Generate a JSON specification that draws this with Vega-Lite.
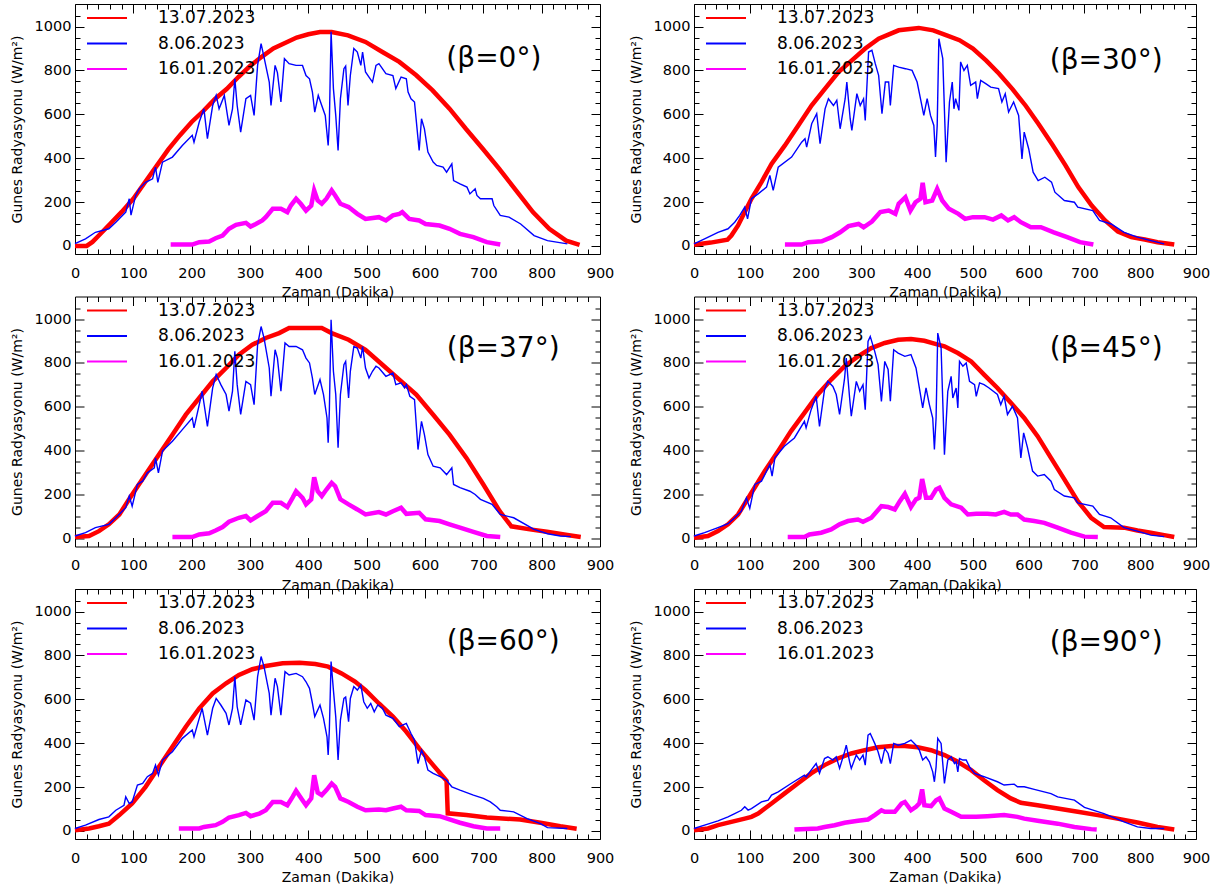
{
"$schema":"https://vega.github.io/schema/vega-lite/v6.json",
"background":"white",
"padding":{"left":10,"top":3,"right":0,"bottom":0},
"config":{"font":"DejaVu Sans","view":{"stroke":null},
"axis":{"grid":false,"domainColor":"black","domainWidth":1,"tickColor":"black","tickWidth":1,"labelColor":"black","titleColor":"black","labelFont":"DejaVu Sans","titleFont":"DejaVu Sans","labelFontSize":14.5,"titleFontSize":14,"titleFontWeight":"normal","labelFlush":false,"labelOverlap":false}},
"datasets":{"d":[
{"p":0,"s":"13.07.2023","x":0,"y":0},{"p":0,"s":"13.07.2023","x":20,"y":0},{"p":0,"s":"13.07.2023","x":30,"y":18},{"p":0,"s":"13.07.2023","x":40,"y":45},{"p":0,"s":"13.07.2023","x":60,"y":100},{"p":0,"s":"13.07.2023","x":80,"y":155},{"p":0,"s":"13.07.2023","x":100,"y":215},{"p":0,"s":"13.07.2023","x":120,"y":290},{"p":0,"s":"13.07.2023","x":140,"y":365},{"p":0,"s":"13.07.2023","x":160,"y":440},{"p":0,"s":"13.07.2023","x":180,"y":505},{"p":0,"s":"13.07.2023","x":200,"y":565},{"p":0,"s":"13.07.2023","x":220,"y":615},{"p":0,"s":"13.07.2023","x":240,"y":670},{"p":0,"s":"13.07.2023","x":260,"y":715},{"p":0,"s":"13.07.2023","x":280,"y":770},{"p":0,"s":"13.07.2023","x":300,"y":820},{"p":0,"s":"13.07.2023","x":320,"y":862},{"p":0,"s":"13.07.2023","x":340,"y":900},{"p":0,"s":"13.07.2023","x":360,"y":925},{"p":0,"s":"13.07.2023","x":380,"y":950},{"p":0,"s":"13.07.2023","x":400,"y":965},{"p":0,"s":"13.07.2023","x":420,"y":975},{"p":0,"s":"13.07.2023","x":440,"y":975},{"p":0,"s":"13.07.2023","x":468,"y":960},{"p":0,"s":"13.07.2023","x":498,"y":930},{"p":0,"s":"13.07.2023","x":527,"y":884},{"p":0,"s":"13.07.2023","x":556,"y":839},{"p":0,"s":"13.07.2023","x":585,"y":778},{"p":0,"s":"13.07.2023","x":613,"y":709},{"p":0,"s":"13.07.2023","x":642,"y":626},{"p":0,"s":"13.07.2023","x":670,"y":534},{"p":0,"s":"13.07.2023","x":699,"y":443},{"p":0,"s":"13.07.2023","x":727,"y":352},{"p":0,"s":"13.07.2023","x":756,"y":253},{"p":0,"s":"13.07.2023","x":785,"y":154},{"p":0,"s":"13.07.2023","x":813,"y":78},{"p":0,"s":"13.07.2023","x":842,"y":24},{"p":0,"s":"13.07.2023","x":865,"y":5},
{"p":0,"s":"8.06.2023","x":0,"y":10},{"p":0,"s":"8.06.2023","x":18,"y":32},{"p":0,"s":"8.06.2023","x":35,"y":62},{"p":0,"s":"8.06.2023","x":58,"y":78},{"p":0,"s":"8.06.2023","x":70,"y":108},{"p":0,"s":"8.06.2023","x":87,"y":154},{"p":0,"s":"8.06.2023","x":93,"y":215},{"p":0,"s":"8.06.2023","x":96,"y":140},{"p":0,"s":"8.06.2023","x":104,"y":230},{"p":0,"s":"8.06.2023","x":110,"y":260},{"p":0,"s":"8.06.2023","x":121,"y":290},{"p":0,"s":"8.06.2023","x":133,"y":306},{"p":0,"s":"8.06.2023","x":138,"y":359},{"p":0,"s":"8.06.2023","x":142,"y":290},{"p":0,"s":"8.06.2023","x":150,"y":382},{"p":0,"s":"8.06.2023","x":167,"y":405},{"p":0,"s":"8.06.2023","x":184,"y":458},{"p":0,"s":"8.06.2023","x":201,"y":504},{"p":0,"s":"8.06.2023","x":204,"y":473},{"p":0,"s":"8.06.2023","x":213,"y":565},{"p":0,"s":"8.06.2023","x":221,"y":625},{"p":0,"s":"8.06.2023","x":227,"y":489},{"p":0,"s":"8.06.2023","x":236,"y":640},{"p":0,"s":"8.06.2023","x":242,"y":686},{"p":0,"s":"8.06.2023","x":247,"y":625},{"p":0,"s":"8.06.2023","x":256,"y":686},{"p":0,"s":"8.06.2023","x":264,"y":550},{"p":0,"s":"8.06.2023","x":270,"y":625},{"p":0,"s":"8.06.2023","x":274,"y":762},{"p":0,"s":"8.06.2023","x":278,"y":640},{"p":0,"s":"8.06.2023","x":284,"y":519},{"p":0,"s":"8.06.2023","x":293,"y":671},{"p":0,"s":"8.06.2023","x":301,"y":686},{"p":0,"s":"8.06.2023","x":307,"y":595},{"p":0,"s":"8.06.2023","x":313,"y":823},{"p":0,"s":"8.06.2023","x":319,"y":922},{"p":0,"s":"8.06.2023","x":324,"y":861},{"p":0,"s":"8.06.2023","x":333,"y":747},{"p":0,"s":"8.06.2023","x":336,"y":640},{"p":0,"s":"8.06.2023","x":343,"y":823},{"p":0,"s":"8.06.2023","x":347,"y":790},{"p":0,"s":"8.06.2023","x":353,"y":656},{"p":0,"s":"8.06.2023","x":359,"y":854},{"p":0,"s":"8.06.2023","x":367,"y":831},{"p":0,"s":"8.06.2023","x":379,"y":823},{"p":0,"s":"8.06.2023","x":390,"y":823},{"p":0,"s":"8.06.2023","x":396,"y":777},{"p":0,"s":"8.06.2023","x":402,"y":762},{"p":0,"s":"8.06.2023","x":407,"y":701},{"p":0,"s":"8.06.2023","x":411,"y":610},{"p":0,"s":"8.06.2023","x":417,"y":686},{"p":0,"s":"8.06.2023","x":423,"y":640},{"p":0,"s":"8.06.2023","x":429,"y":595},{"p":0,"s":"8.06.2023","x":434,"y":458},{"p":0,"s":"8.06.2023","x":436,"y":560},{"p":0,"s":"8.06.2023","x":439,"y":976},{"p":0,"s":"8.06.2023","x":443,"y":717},{"p":0,"s":"8.06.2023","x":447,"y":595},{"p":0,"s":"8.06.2023","x":451,"y":435},{"p":0,"s":"8.06.2023","x":455,"y":671},{"p":0,"s":"8.06.2023","x":461,"y":808},{"p":0,"s":"8.06.2023","x":464,"y":820},{"p":0,"s":"8.06.2023","x":468,"y":640},{"p":0,"s":"8.06.2023","x":472,"y":777},{"p":0,"s":"8.06.2023","x":478,"y":900},{"p":0,"s":"8.06.2023","x":484,"y":884},{"p":0,"s":"8.06.2023","x":490,"y":823},{"p":0,"s":"8.06.2023","x":493,"y":884},{"p":0,"s":"8.06.2023","x":498,"y":793},{"p":0,"s":"8.06.2023","x":504,"y":770},{"p":0,"s":"8.06.2023","x":510,"y":747},{"p":0,"s":"8.06.2023","x":516,"y":823},{"p":0,"s":"8.06.2023","x":521,"y":831},{"p":0,"s":"8.06.2023","x":533,"y":785},{"p":0,"s":"8.06.2023","x":545,"y":777},{"p":0,"s":"8.06.2023","x":550,"y":717},{"p":0,"s":"8.06.2023","x":559,"y":770},{"p":0,"s":"8.06.2023","x":568,"y":762},{"p":0,"s":"8.06.2023","x":571,"y":701},{"p":0,"s":"8.06.2023","x":576,"y":671},{"p":0,"s":"8.06.2023","x":582,"y":656},{"p":0,"s":"8.06.2023","x":588,"y":489},{"p":0,"s":"8.06.2023","x":590,"y":435},{"p":0,"s":"8.06.2023","x":594,"y":580},{"p":0,"s":"8.06.2023","x":599,"y":534},{"p":0,"s":"8.06.2023","x":605,"y":428},{"p":0,"s":"8.06.2023","x":614,"y":382},{"p":0,"s":"8.06.2023","x":620,"y":367},{"p":0,"s":"8.06.2023","x":631,"y":359},{"p":0,"s":"8.06.2023","x":637,"y":336},{"p":0,"s":"8.06.2023","x":646,"y":374},{"p":0,"s":"8.06.2023","x":649,"y":298},{"p":0,"s":"8.06.2023","x":660,"y":283},{"p":0,"s":"8.06.2023","x":672,"y":268},{"p":0,"s":"8.06.2023","x":677,"y":237},{"p":0,"s":"8.06.2023","x":686,"y":260},{"p":0,"s":"8.06.2023","x":689,"y":230},{"p":0,"s":"8.06.2023","x":695,"y":215},{"p":0,"s":"8.06.2023","x":715,"y":215},{"p":0,"s":"8.06.2023","x":718,"y":184},{"p":0,"s":"8.06.2023","x":729,"y":139},{"p":0,"s":"8.06.2023","x":744,"y":131},{"p":0,"s":"8.06.2023","x":764,"y":100},{"p":0,"s":"8.06.2023","x":787,"y":47},{"p":0,"s":"8.06.2023","x":810,"y":24},{"p":0,"s":"8.06.2023","x":844,"y":9},
{"p":0,"s":"16.01.2023","x":164,"y":6},{"p":0,"s":"16.01.2023","x":201,"y":6},{"p":0,"s":"16.01.2023","x":213,"y":17},{"p":0,"s":"16.01.2023","x":230,"y":20},{"p":0,"s":"16.01.2023","x":241,"y":35},{"p":0,"s":"16.01.2023","x":253,"y":47},{"p":0,"s":"16.01.2023","x":264,"y":78},{"p":0,"s":"16.01.2023","x":276,"y":96},{"p":0,"s":"16.01.2023","x":293,"y":105},{"p":0,"s":"16.01.2023","x":301,"y":88},{"p":0,"s":"16.01.2023","x":310,"y":100},{"p":0,"s":"16.01.2023","x":321,"y":116},{"p":0,"s":"16.01.2023","x":327,"y":131},{"p":0,"s":"16.01.2023","x":339,"y":169},{"p":0,"s":"16.01.2023","x":353,"y":169},{"p":0,"s":"16.01.2023","x":364,"y":154},{"p":0,"s":"16.01.2023","x":370,"y":184},{"p":0,"s":"16.01.2023","x":379,"y":215},{"p":0,"s":"16.01.2023","x":387,"y":192},{"p":0,"s":"16.01.2023","x":396,"y":161},{"p":0,"s":"16.01.2023","x":405,"y":184},{"p":0,"s":"16.01.2023","x":410,"y":253},{"p":0,"s":"16.01.2023","x":416,"y":207},{"p":0,"s":"16.01.2023","x":423,"y":192},{"p":0,"s":"16.01.2023","x":431,"y":215},{"p":0,"s":"16.01.2023","x":440,"y":253},{"p":0,"s":"16.01.2023","x":446,"y":230},{"p":0,"s":"16.01.2023","x":455,"y":192},{"p":0,"s":"16.01.2023","x":469,"y":177},{"p":0,"s":"16.01.2023","x":484,"y":146},{"p":0,"s":"16.01.2023","x":498,"y":123},{"p":0,"s":"16.01.2023","x":521,"y":131},{"p":0,"s":"16.01.2023","x":533,"y":116},{"p":0,"s":"16.01.2023","x":545,"y":139},{"p":0,"s":"16.01.2023","x":556,"y":146},{"p":0,"s":"16.01.2023","x":561,"y":154},{"p":0,"s":"16.01.2023","x":573,"y":123},{"p":0,"s":"16.01.2023","x":590,"y":116},{"p":0,"s":"16.01.2023","x":601,"y":100},{"p":0,"s":"16.01.2023","x":625,"y":93},{"p":0,"s":"16.01.2023","x":642,"y":78},{"p":0,"s":"16.01.2023","x":660,"y":55},{"p":0,"s":"16.01.2023","x":683,"y":40},{"p":0,"s":"16.01.2023","x":706,"y":17},{"p":0,"s":"16.01.2023","x":729,"y":6},

{"p":1,"s":"13.07.2023","x":0,"y":5},{"p":1,"s":"13.07.2023","x":30,"y":15},{"p":1,"s":"13.07.2023","x":60,"y":28},{"p":1,"s":"13.07.2023","x":67,"y":47},{"p":1,"s":"13.07.2023","x":79,"y":93},{"p":1,"s":"13.07.2023","x":91,"y":154},{"p":1,"s":"13.07.2023","x":103,"y":215},{"p":1,"s":"13.07.2023","x":121,"y":291},{"p":1,"s":"13.07.2023","x":139,"y":374},{"p":1,"s":"13.07.2023","x":163,"y":458},{"p":1,"s":"13.07.2023","x":187,"y":549},{"p":1,"s":"13.07.2023","x":211,"y":641},{"p":1,"s":"13.07.2023","x":235,"y":717},{"p":1,"s":"13.07.2023","x":259,"y":793},{"p":1,"s":"13.07.2023","x":283,"y":846},{"p":1,"s":"13.07.2023","x":307,"y":900},{"p":1,"s":"13.07.2023","x":331,"y":945},{"p":1,"s":"13.07.2023","x":367,"y":983},{"p":1,"s":"13.07.2023","x":403,"y":994},{"p":1,"s":"13.07.2023","x":429,"y":983},{"p":1,"s":"13.07.2023","x":453,"y":960},{"p":1,"s":"13.07.2023","x":476,"y":938},{"p":1,"s":"13.07.2023","x":500,"y":900},{"p":1,"s":"13.07.2023","x":524,"y":845},{"p":1,"s":"13.07.2023","x":547,"y":785},{"p":1,"s":"13.07.2023","x":571,"y":715},{"p":1,"s":"13.07.2023","x":595,"y":638},{"p":1,"s":"13.07.2023","x":618,"y":555},{"p":1,"s":"13.07.2023","x":642,"y":463},{"p":1,"s":"13.07.2023","x":666,"y":367},{"p":1,"s":"13.07.2023","x":689,"y":268},{"p":1,"s":"13.07.2023","x":713,"y":184},{"p":1,"s":"13.07.2023","x":737,"y":116},{"p":1,"s":"13.07.2023","x":760,"y":65},{"p":1,"s":"13.07.2023","x":784,"y":40},{"p":1,"s":"13.07.2023","x":808,"y":29},{"p":1,"s":"13.07.2023","x":831,"y":17},{"p":1,"s":"13.07.2023","x":861,"y":6},
{"p":1,"s":"8.06.2023","x":0,"y":9},{"p":1,"s":"8.06.2023","x":19,"y":32},{"p":1,"s":"8.06.2023","x":43,"y":62},{"p":1,"s":"8.06.2023","x":61,"y":78},{"p":1,"s":"8.06.2023","x":73,"y":108},{"p":1,"s":"8.06.2023","x":82,"y":139},{"p":1,"s":"8.06.2023","x":91,"y":177},{"p":1,"s":"8.06.2023","x":96,"y":123},{"p":1,"s":"8.06.2023","x":103,"y":215},{"p":1,"s":"8.06.2023","x":115,"y":237},{"p":1,"s":"8.06.2023","x":130,"y":268},{"p":1,"s":"8.06.2023","x":136,"y":321},{"p":1,"s":"8.06.2023","x":142,"y":253},{"p":1,"s":"8.06.2023","x":151,"y":359},{"p":1,"s":"8.06.2023","x":175,"y":405},{"p":1,"s":"8.06.2023","x":193,"y":473},{"p":1,"s":"8.06.2023","x":199,"y":489},{"p":1,"s":"8.06.2023","x":202,"y":450},{"p":1,"s":"8.06.2023","x":211,"y":557},{"p":1,"s":"8.06.2023","x":220,"y":603},{"p":1,"s":"8.06.2023","x":226,"y":466},{"p":1,"s":"8.06.2023","x":235,"y":625},{"p":1,"s":"8.06.2023","x":241,"y":671},{"p":1,"s":"8.06.2023","x":250,"y":640},{"p":1,"s":"8.06.2023","x":256,"y":664},{"p":1,"s":"8.06.2023","x":262,"y":534},{"p":1,"s":"8.06.2023","x":271,"y":671},{"p":1,"s":"8.06.2023","x":274,"y":747},{"p":1,"s":"8.06.2023","x":280,"y":580},{"p":1,"s":"8.06.2023","x":283,"y":527},{"p":1,"s":"8.06.2023","x":292,"y":694},{"p":1,"s":"8.06.2023","x":298,"y":640},{"p":1,"s":"8.06.2023","x":304,"y":671},{"p":1,"s":"8.06.2023","x":307,"y":572},{"p":1,"s":"8.06.2023","x":313,"y":884},{"p":1,"s":"8.06.2023","x":319,"y":892},{"p":1,"s":"8.06.2023","x":325,"y":831},{"p":1,"s":"8.06.2023","x":331,"y":778},{"p":1,"s":"8.06.2023","x":337,"y":603},{"p":1,"s":"8.06.2023","x":343,"y":747},{"p":1,"s":"8.06.2023","x":349,"y":747},{"p":1,"s":"8.06.2023","x":352,"y":640},{"p":1,"s":"8.06.2023","x":358,"y":823},{"p":1,"s":"8.06.2023","x":367,"y":815},{"p":1,"s":"8.06.2023","x":379,"y":808},{"p":1,"s":"8.06.2023","x":391,"y":800},{"p":1,"s":"8.06.2023","x":400,"y":747},{"p":1,"s":"8.06.2023","x":406,"y":671},{"p":1,"s":"8.06.2023","x":412,"y":595},{"p":1,"s":"8.06.2023","x":418,"y":671},{"p":1,"s":"8.06.2023","x":424,"y":595},{"p":1,"s":"8.06.2023","x":430,"y":549},{"p":1,"s":"8.06.2023","x":433,"y":405},{"p":1,"s":"8.06.2023","x":436,"y":549},{"p":1,"s":"8.06.2023","x":439,"y":945},{"p":1,"s":"8.06.2023","x":446,"y":854},{"p":1,"s":"8.06.2023","x":452,"y":382},{"p":1,"s":"8.06.2023","x":458,"y":656},{"p":1,"s":"8.06.2023","x":463,"y":747},{"p":1,"s":"8.06.2023","x":466,"y":625},{"p":1,"s":"8.06.2023","x":469,"y":671},{"p":1,"s":"8.06.2023","x":475,"y":618},{"p":1,"s":"8.06.2023","x":478,"y":839},{"p":1,"s":"8.06.2023","x":484,"y":800},{"p":1,"s":"8.06.2023","x":490,"y":823},{"p":1,"s":"8.06.2023","x":496,"y":732},{"p":1,"s":"8.06.2023","x":505,"y":747},{"p":1,"s":"8.06.2023","x":508,"y":671},{"p":1,"s":"8.06.2023","x":514,"y":755},{"p":1,"s":"8.06.2023","x":523,"y":740},{"p":1,"s":"8.06.2023","x":532,"y":724},{"p":1,"s":"8.06.2023","x":546,"y":717},{"p":1,"s":"8.06.2023","x":552,"y":656},{"p":1,"s":"8.06.2023","x":558,"y":694},{"p":1,"s":"8.06.2023","x":564,"y":610},{"p":1,"s":"8.06.2023","x":573,"y":656},{"p":1,"s":"8.06.2023","x":582,"y":595},{"p":1,"s":"8.06.2023","x":588,"y":397},{"p":1,"s":"8.06.2023","x":592,"y":519},{"p":1,"s":"8.06.2023","x":600,"y":443},{"p":1,"s":"8.06.2023","x":608,"y":336},{"p":1,"s":"8.06.2023","x":617,"y":298},{"p":1,"s":"8.06.2023","x":629,"y":313},{"p":1,"s":"8.06.2023","x":641,"y":291},{"p":1,"s":"8.06.2023","x":647,"y":245},{"p":1,"s":"8.06.2023","x":664,"y":207},{"p":1,"s":"8.06.2023","x":682,"y":199},{"p":1,"s":"8.06.2023","x":688,"y":177},{"p":1,"s":"8.06.2023","x":715,"y":161},{"p":1,"s":"8.06.2023","x":727,"y":116},{"p":1,"s":"8.06.2023","x":748,"y":100},{"p":1,"s":"8.06.2023","x":771,"y":62},{"p":1,"s":"8.06.2023","x":795,"y":40},{"p":1,"s":"8.06.2023","x":819,"y":24},{"p":1,"s":"8.06.2023","x":843,"y":9},
{"p":1,"s":"16.01.2023","x":163,"y":6},{"p":1,"s":"16.01.2023","x":193,"y":6},{"p":1,"s":"16.01.2023","x":205,"y":17},{"p":1,"s":"16.01.2023","x":229,"y":21},{"p":1,"s":"16.01.2023","x":247,"y":40},{"p":1,"s":"16.01.2023","x":262,"y":62},{"p":1,"s":"16.01.2023","x":277,"y":90},{"p":1,"s":"16.01.2023","x":295,"y":100},{"p":1,"s":"16.01.2023","x":304,"y":85},{"p":1,"s":"16.01.2023","x":319,"y":111},{"p":1,"s":"16.01.2023","x":334,"y":154},{"p":1,"s":"16.01.2023","x":349,"y":161},{"p":1,"s":"16.01.2023","x":361,"y":146},{"p":1,"s":"16.01.2023","x":367,"y":192},{"p":1,"s":"16.01.2023","x":379,"y":222},{"p":1,"s":"16.01.2023","x":388,"y":161},{"p":1,"s":"16.01.2023","x":397,"y":199},{"p":1,"s":"16.01.2023","x":406,"y":215},{"p":1,"s":"16.01.2023","x":410,"y":288},{"p":1,"s":"16.01.2023","x":415,"y":199},{"p":1,"s":"16.01.2023","x":427,"y":207},{"p":1,"s":"16.01.2023","x":436,"y":260},{"p":1,"s":"16.01.2023","x":445,"y":207},{"p":1,"s":"16.01.2023","x":457,"y":169},{"p":1,"s":"16.01.2023","x":474,"y":146},{"p":1,"s":"16.01.2023","x":486,"y":123},{"p":1,"s":"16.01.2023","x":500,"y":131},{"p":1,"s":"16.01.2023","x":521,"y":131},{"p":1,"s":"16.01.2023","x":536,"y":120},{"p":1,"s":"16.01.2023","x":551,"y":139},{"p":1,"s":"16.01.2023","x":563,"y":116},{"p":1,"s":"16.01.2023","x":574,"y":131},{"p":1,"s":"16.01.2023","x":586,"y":108},{"p":1,"s":"16.01.2023","x":604,"y":85},{"p":1,"s":"16.01.2023","x":622,"y":85},{"p":1,"s":"16.01.2023","x":645,"y":62},{"p":1,"s":"16.01.2023","x":669,"y":40},{"p":1,"s":"16.01.2023","x":692,"y":17},{"p":1,"s":"16.01.2023","x":716,"y":6},

{"p":2,"s":"13.07.2023","x":0,"y":6},{"p":2,"s":"13.07.2023","x":24,"y":11},{"p":2,"s":"13.07.2023","x":41,"y":33},{"p":2,"s":"13.07.2023","x":58,"y":64},{"p":2,"s":"13.07.2023","x":76,"y":109},{"p":2,"s":"13.07.2023","x":98,"y":200},{"p":2,"s":"13.07.2023","x":121,"y":291},{"p":2,"s":"13.07.2023","x":144,"y":382},{"p":2,"s":"13.07.2023","x":167,"y":473},{"p":2,"s":"13.07.2023","x":190,"y":564},{"p":2,"s":"13.07.2023","x":213,"y":640},{"p":2,"s":"13.07.2023","x":236,"y":716},{"p":2,"s":"13.07.2023","x":259,"y":777},{"p":2,"s":"13.07.2023","x":281,"y":838},{"p":2,"s":"13.07.2023","x":304,"y":883},{"p":2,"s":"13.07.2023","x":327,"y":914},{"p":2,"s":"13.07.2023","x":350,"y":936},{"p":2,"s":"13.07.2023","x":367,"y":959},{"p":2,"s":"13.07.2023","x":423,"y":959},{"p":2,"s":"13.07.2023","x":440,"y":936},{"p":2,"s":"13.07.2023","x":469,"y":906},{"p":2,"s":"13.07.2023","x":498,"y":860},{"p":2,"s":"13.07.2023","x":527,"y":792},{"p":2,"s":"13.07.2023","x":556,"y":724},{"p":2,"s":"13.07.2023","x":585,"y":656},{"p":2,"s":"13.07.2023","x":614,"y":564},{"p":2,"s":"13.07.2023","x":642,"y":473},{"p":2,"s":"13.07.2023","x":671,"y":367},{"p":2,"s":"13.07.2023","x":700,"y":246},{"p":2,"s":"13.07.2023","x":728,"y":124},{"p":2,"s":"13.07.2023","x":748,"y":55},{"p":2,"s":"13.07.2023","x":780,"y":41},{"p":2,"s":"13.07.2023","x":809,"y":30},{"p":2,"s":"13.07.2023","x":844,"y":15},{"p":2,"s":"13.07.2023","x":867,"y":6},
{"p":2,"s":"8.06.2023","x":0,"y":11},{"p":2,"s":"8.06.2023","x":18,"y":26},{"p":2,"s":"8.06.2023","x":35,"y":49},{"p":2,"s":"8.06.2023","x":58,"y":64},{"p":2,"s":"8.06.2023","x":70,"y":94},{"p":2,"s":"8.06.2023","x":87,"y":140},{"p":2,"s":"8.06.2023","x":93,"y":193},{"p":2,"s":"8.06.2023","x":98,"y":147},{"p":2,"s":"8.06.2023","x":107,"y":246},{"p":2,"s":"8.06.2023","x":116,"y":261},{"p":2,"s":"8.06.2023","x":124,"y":299},{"p":2,"s":"8.06.2023","x":136,"y":322},{"p":2,"s":"8.06.2023","x":138,"y":367},{"p":2,"s":"8.06.2023","x":143,"y":299},{"p":2,"s":"8.06.2023","x":150,"y":398},{"p":2,"s":"8.06.2023","x":167,"y":443},{"p":2,"s":"8.06.2023","x":184,"y":496},{"p":2,"s":"8.06.2023","x":201,"y":549},{"p":2,"s":"8.06.2023","x":204,"y":504},{"p":2,"s":"8.06.2023","x":213,"y":610},{"p":2,"s":"8.06.2023","x":218,"y":671},{"p":2,"s":"8.06.2023","x":227,"y":511},{"p":2,"s":"8.06.2023","x":236,"y":686},{"p":2,"s":"8.06.2023","x":242,"y":747},{"p":2,"s":"8.06.2023","x":250,"y":701},{"p":2,"s":"8.06.2023","x":259,"y":656},{"p":2,"s":"8.06.2023","x":264,"y":580},{"p":2,"s":"8.06.2023","x":270,"y":671},{"p":2,"s":"8.06.2023","x":274,"y":853},{"p":2,"s":"8.06.2023","x":278,"y":701},{"p":2,"s":"8.06.2023","x":284,"y":565},{"p":2,"s":"8.06.2023","x":293,"y":716},{"p":2,"s":"8.06.2023","x":301,"y":701},{"p":2,"s":"8.06.2023","x":307,"y":610},{"p":2,"s":"8.06.2023","x":313,"y":883},{"p":2,"s":"8.06.2023","x":319,"y":966},{"p":2,"s":"8.06.2023","x":324,"y":914},{"p":2,"s":"8.06.2023","x":333,"y":777},{"p":2,"s":"8.06.2023","x":336,"y":648},{"p":2,"s":"8.06.2023","x":343,"y":860},{"p":2,"s":"8.06.2023","x":347,"y":822},{"p":2,"s":"8.06.2023","x":353,"y":671},{"p":2,"s":"8.06.2023","x":360,"y":891},{"p":2,"s":"8.06.2023","x":367,"y":875},{"p":2,"s":"8.06.2023","x":379,"y":875},{"p":2,"s":"8.06.2023","x":390,"y":860},{"p":2,"s":"8.06.2023","x":396,"y":822},{"p":2,"s":"8.06.2023","x":402,"y":800},{"p":2,"s":"8.06.2023","x":407,"y":731},{"p":2,"s":"8.06.2023","x":411,"y":656},{"p":2,"s":"8.06.2023","x":420,"y":724},{"p":2,"s":"8.06.2023","x":426,"y":656},{"p":2,"s":"8.06.2023","x":432,"y":549},{"p":2,"s":"8.06.2023","x":434,"y":436},{"p":2,"s":"8.06.2023","x":436,"y":580},{"p":2,"s":"8.06.2023","x":439,"y":997},{"p":2,"s":"8.06.2023","x":443,"y":762},{"p":2,"s":"8.06.2023","x":447,"y":656},{"p":2,"s":"8.06.2023","x":451,"y":413},{"p":2,"s":"8.06.2023","x":455,"y":656},{"p":2,"s":"8.06.2023","x":461,"y":792},{"p":2,"s":"8.06.2023","x":464,"y":807},{"p":2,"s":"8.06.2023","x":469,"y":640},{"p":2,"s":"8.06.2023","x":472,"y":762},{"p":2,"s":"8.06.2023","x":478,"y":875},{"p":2,"s":"8.06.2023","x":484,"y":868},{"p":2,"s":"8.06.2023","x":490,"y":822},{"p":2,"s":"8.06.2023","x":493,"y":875},{"p":2,"s":"8.06.2023","x":498,"y":777},{"p":2,"s":"8.06.2023","x":504,"y":731},{"p":2,"s":"8.06.2023","x":510,"y":762},{"p":2,"s":"8.06.2023","x":516,"y":785},{"p":2,"s":"8.06.2023","x":521,"y":777},{"p":2,"s":"8.06.2023","x":533,"y":739},{"p":2,"s":"8.06.2023","x":545,"y":754},{"p":2,"s":"8.06.2023","x":550,"y":701},{"p":2,"s":"8.06.2023","x":559,"y":709},{"p":2,"s":"8.06.2023","x":565,"y":686},{"p":2,"s":"8.06.2023","x":568,"y":701},{"p":2,"s":"8.06.2023","x":574,"y":648},{"p":2,"s":"8.06.2023","x":582,"y":633},{"p":2,"s":"8.06.2023","x":588,"y":405},{"p":2,"s":"8.06.2023","x":594,"y":534},{"p":2,"s":"8.06.2023","x":599,"y":473},{"p":2,"s":"8.06.2023","x":605,"y":382},{"p":2,"s":"8.06.2023","x":614,"y":329},{"p":2,"s":"8.06.2023","x":626,"y":322},{"p":2,"s":"8.06.2023","x":637,"y":291},{"p":2,"s":"8.06.2023","x":646,"y":322},{"p":2,"s":"8.06.2023","x":649,"y":246},{"p":2,"s":"8.06.2023","x":660,"y":231},{"p":2,"s":"8.06.2023","x":677,"y":215},{"p":2,"s":"8.06.2023","x":686,"y":200},{"p":2,"s":"8.06.2023","x":695,"y":178},{"p":2,"s":"8.06.2023","x":715,"y":155},{"p":2,"s":"8.06.2023","x":729,"y":109},{"p":2,"s":"8.06.2023","x":752,"y":94},{"p":2,"s":"8.06.2023","x":787,"y":41},{"p":2,"s":"8.06.2023","x":810,"y":21},{"p":2,"s":"8.06.2023","x":832,"y":11},{"p":2,"s":"8.06.2023","x":850,"y":8},
{"p":2,"s":"16.01.2023","x":167,"y":6},{"p":2,"s":"16.01.2023","x":201,"y":6},{"p":2,"s":"16.01.2023","x":213,"y":18},{"p":2,"s":"16.01.2023","x":230,"y":23},{"p":2,"s":"16.01.2023","x":241,"y":36},{"p":2,"s":"16.01.2023","x":253,"y":52},{"p":2,"s":"16.01.2023","x":264,"y":76},{"p":2,"s":"16.01.2023","x":281,"y":94},{"p":2,"s":"16.01.2023","x":293,"y":102},{"p":2,"s":"16.01.2023","x":301,"y":82},{"p":2,"s":"16.01.2023","x":313,"y":102},{"p":2,"s":"16.01.2023","x":327,"y":124},{"p":2,"s":"16.01.2023","x":339,"y":162},{"p":2,"s":"16.01.2023","x":353,"y":162},{"p":2,"s":"16.01.2023","x":364,"y":143},{"p":2,"s":"16.01.2023","x":373,"y":185},{"p":2,"s":"16.01.2023","x":379,"y":215},{"p":2,"s":"16.01.2023","x":390,"y":185},{"p":2,"s":"16.01.2023","x":396,"y":155},{"p":2,"s":"16.01.2023","x":405,"y":178},{"p":2,"s":"16.01.2023","x":410,"y":279},{"p":2,"s":"16.01.2023","x":416,"y":215},{"p":2,"s":"16.01.2023","x":423,"y":193},{"p":2,"s":"16.01.2023","x":431,"y":223},{"p":2,"s":"16.01.2023","x":440,"y":253},{"p":2,"s":"16.01.2023","x":446,"y":238},{"p":2,"s":"16.01.2023","x":455,"y":178},{"p":2,"s":"16.01.2023","x":469,"y":155},{"p":2,"s":"16.01.2023","x":484,"y":132},{"p":2,"s":"16.01.2023","x":498,"y":109},{"p":2,"s":"16.01.2023","x":521,"y":120},{"p":2,"s":"16.01.2023","x":533,"y":109},{"p":2,"s":"16.01.2023","x":545,"y":124},{"p":2,"s":"16.01.2023","x":559,"y":140},{"p":2,"s":"16.01.2023","x":568,"y":112},{"p":2,"s":"16.01.2023","x":590,"y":117},{"p":2,"s":"16.01.2023","x":601,"y":87},{"p":2,"s":"16.01.2023","x":625,"y":79},{"p":2,"s":"16.01.2023","x":642,"y":64},{"p":2,"s":"16.01.2023","x":660,"y":49},{"p":2,"s":"16.01.2023","x":683,"y":30},{"p":2,"s":"16.01.2023","x":706,"y":11},{"p":2,"s":"16.01.2023","x":729,"y":6},

{"p":3,"s":"13.07.2023","x":0,"y":3},{"p":3,"s":"13.07.2023","x":25,"y":11},{"p":3,"s":"13.07.2023","x":43,"y":33},{"p":3,"s":"13.07.2023","x":61,"y":64},{"p":3,"s":"13.07.2023","x":79,"y":109},{"p":3,"s":"13.07.2023","x":103,"y":208},{"p":3,"s":"13.07.2023","x":127,"y":307},{"p":3,"s":"13.07.2023","x":151,"y":398},{"p":3,"s":"13.07.2023","x":174,"y":489},{"p":3,"s":"13.07.2023","x":198,"y":572},{"p":3,"s":"13.07.2023","x":222,"y":656},{"p":3,"s":"13.07.2023","x":246,"y":724},{"p":3,"s":"13.07.2023","x":270,"y":785},{"p":3,"s":"13.07.2023","x":294,"y":830},{"p":3,"s":"13.07.2023","x":318,"y":868},{"p":3,"s":"13.07.2023","x":342,"y":891},{"p":3,"s":"13.07.2023","x":366,"y":906},{"p":3,"s":"13.07.2023","x":389,"y":909},{"p":3,"s":"13.07.2023","x":413,"y":901},{"p":3,"s":"13.07.2023","x":431,"y":888},{"p":3,"s":"13.07.2023","x":449,"y":876},{"p":3,"s":"13.07.2023","x":473,"y":845},{"p":3,"s":"13.07.2023","x":497,"y":807},{"p":3,"s":"13.07.2023","x":520,"y":747},{"p":3,"s":"13.07.2023","x":544,"y":686},{"p":3,"s":"13.07.2023","x":568,"y":618},{"p":3,"s":"13.07.2023","x":592,"y":549},{"p":3,"s":"13.07.2023","x":616,"y":466},{"p":3,"s":"13.07.2023","x":640,"y":367},{"p":3,"s":"13.07.2023","x":664,"y":269},{"p":3,"s":"13.07.2023","x":688,"y":170},{"p":3,"s":"13.07.2023","x":712,"y":94},{"p":3,"s":"13.07.2023","x":735,"y":52},{"p":3,"s":"13.07.2023","x":771,"y":49},{"p":3,"s":"13.07.2023","x":795,"y":36},{"p":3,"s":"13.07.2023","x":819,"y":26},{"p":3,"s":"13.07.2023","x":843,"y":15},{"p":3,"s":"13.07.2023","x":861,"y":6},
{"p":3,"s":"8.06.2023","x":0,"y":11},{"p":3,"s":"8.06.2023","x":19,"y":26},{"p":3,"s":"8.06.2023","x":43,"y":49},{"p":3,"s":"8.06.2023","x":61,"y":67},{"p":3,"s":"8.06.2023","x":73,"y":94},{"p":3,"s":"8.06.2023","x":85,"y":124},{"p":3,"s":"8.06.2023","x":94,"y":185},{"p":3,"s":"8.06.2023","x":100,"y":137},{"p":3,"s":"8.06.2023","x":109,"y":246},{"p":3,"s":"8.06.2023","x":121,"y":261},{"p":3,"s":"8.06.2023","x":127,"y":291},{"p":3,"s":"8.06.2023","x":136,"y":337},{"p":3,"s":"8.06.2023","x":140,"y":284},{"p":3,"s":"8.06.2023","x":145,"y":367},{"p":3,"s":"8.06.2023","x":162,"y":420},{"p":3,"s":"8.06.2023","x":180,"y":458},{"p":3,"s":"8.06.2023","x":198,"y":534},{"p":3,"s":"8.06.2023","x":201,"y":504},{"p":3,"s":"8.06.2023","x":210,"y":587},{"p":3,"s":"8.06.2023","x":219,"y":648},{"p":3,"s":"8.06.2023","x":225,"y":511},{"p":3,"s":"8.06.2023","x":234,"y":678},{"p":3,"s":"8.06.2023","x":240,"y":716},{"p":3,"s":"8.06.2023","x":249,"y":693},{"p":3,"s":"8.06.2023","x":255,"y":656},{"p":3,"s":"8.06.2023","x":261,"y":565},{"p":3,"s":"8.06.2023","x":270,"y":731},{"p":3,"s":"8.06.2023","x":273,"y":822},{"p":3,"s":"8.06.2023","x":279,"y":640},{"p":3,"s":"8.06.2023","x":282,"y":557},{"p":3,"s":"8.06.2023","x":291,"y":716},{"p":3,"s":"8.06.2023","x":297,"y":671},{"p":3,"s":"8.06.2023","x":303,"y":701},{"p":3,"s":"8.06.2023","x":307,"y":587},{"p":3,"s":"8.06.2023","x":312,"y":898},{"p":3,"s":"8.06.2023","x":316,"y":921},{"p":3,"s":"8.06.2023","x":324,"y":853},{"p":3,"s":"8.06.2023","x":330,"y":792},{"p":3,"s":"8.06.2023","x":336,"y":625},{"p":3,"s":"8.06.2023","x":342,"y":807},{"p":3,"s":"8.06.2023","x":348,"y":770},{"p":3,"s":"8.06.2023","x":352,"y":625},{"p":3,"s":"8.06.2023","x":358,"y":860},{"p":3,"s":"8.06.2023","x":366,"y":845},{"p":3,"s":"8.06.2023","x":378,"y":830},{"p":3,"s":"8.06.2023","x":389,"y":838},{"p":3,"s":"8.06.2023","x":398,"y":777},{"p":3,"s":"8.06.2023","x":404,"y":686},{"p":3,"s":"8.06.2023","x":410,"y":595},{"p":3,"s":"8.06.2023","x":416,"y":686},{"p":3,"s":"8.06.2023","x":422,"y":610},{"p":3,"s":"8.06.2023","x":428,"y":549},{"p":3,"s":"8.06.2023","x":431,"y":405},{"p":3,"s":"8.06.2023","x":434,"y":549},{"p":3,"s":"8.06.2023","x":437,"y":936},{"p":3,"s":"8.06.2023","x":443,"y":868},{"p":3,"s":"8.06.2023","x":449,"y":382},{"p":3,"s":"8.06.2023","x":455,"y":671},{"p":3,"s":"8.06.2023","x":461,"y":739},{"p":3,"s":"8.06.2023","x":464,"y":640},{"p":3,"s":"8.06.2023","x":470,"y":686},{"p":3,"s":"8.06.2023","x":473,"y":595},{"p":3,"s":"8.06.2023","x":476,"y":807},{"p":3,"s":"8.06.2023","x":482,"y":785},{"p":3,"s":"8.06.2023","x":488,"y":800},{"p":3,"s":"8.06.2023","x":494,"y":716},{"p":3,"s":"8.06.2023","x":503,"y":701},{"p":3,"s":"8.06.2023","x":506,"y":648},{"p":3,"s":"8.06.2023","x":512,"y":709},{"p":3,"s":"8.06.2023","x":520,"y":701},{"p":3,"s":"8.06.2023","x":529,"y":686},{"p":3,"s":"8.06.2023","x":544,"y":656},{"p":3,"s":"8.06.2023","x":550,"y":610},{"p":3,"s":"8.06.2023","x":556,"y":648},{"p":3,"s":"8.06.2023","x":562,"y":565},{"p":3,"s":"8.06.2023","x":571,"y":602},{"p":3,"s":"8.06.2023","x":580,"y":549},{"p":3,"s":"8.06.2023","x":586,"y":367},{"p":3,"s":"8.06.2023","x":591,"y":481},{"p":3,"s":"8.06.2023","x":598,"y":413},{"p":3,"s":"8.06.2023","x":607,"y":307},{"p":3,"s":"8.06.2023","x":616,"y":284},{"p":3,"s":"8.06.2023","x":628,"y":291},{"p":3,"s":"8.06.2023","x":640,"y":261},{"p":3,"s":"8.06.2023","x":646,"y":223},{"p":3,"s":"8.06.2023","x":664,"y":193},{"p":3,"s":"8.06.2023","x":682,"y":185},{"p":3,"s":"8.06.2023","x":688,"y":162},{"p":3,"s":"8.06.2023","x":715,"y":147},{"p":3,"s":"8.06.2023","x":727,"y":109},{"p":3,"s":"8.06.2023","x":747,"y":94},{"p":3,"s":"8.06.2023","x":771,"y":49},{"p":3,"s":"8.06.2023","x":795,"y":33},{"p":3,"s":"8.06.2023","x":819,"y":15},{"p":3,"s":"8.06.2023","x":843,"y":8},
{"p":3,"s":"16.01.2023","x":168,"y":6},{"p":3,"s":"16.01.2023","x":198,"y":6},{"p":3,"s":"16.01.2023","x":207,"y":18},{"p":3,"s":"16.01.2023","x":228,"y":26},{"p":3,"s":"16.01.2023","x":246,"y":41},{"p":3,"s":"16.01.2023","x":261,"y":64},{"p":3,"s":"16.01.2023","x":276,"y":79},{"p":3,"s":"16.01.2023","x":294,"y":86},{"p":3,"s":"16.01.2023","x":303,"y":76},{"p":3,"s":"16.01.2023","x":318,"y":94},{"p":3,"s":"16.01.2023","x":336,"y":147},{"p":3,"s":"16.01.2023","x":348,"y":143},{"p":3,"s":"16.01.2023","x":360,"y":132},{"p":3,"s":"16.01.2023","x":369,"y":170},{"p":3,"s":"16.01.2023","x":378,"y":203},{"p":3,"s":"16.01.2023","x":389,"y":143},{"p":3,"s":"16.01.2023","x":398,"y":178},{"p":3,"s":"16.01.2023","x":404,"y":185},{"p":3,"s":"16.01.2023","x":409,"y":271},{"p":3,"s":"16.01.2023","x":416,"y":185},{"p":3,"s":"16.01.2023","x":425,"y":185},{"p":3,"s":"16.01.2023","x":434,"y":223},{"p":3,"s":"16.01.2023","x":440,"y":231},{"p":3,"s":"16.01.2023","x":449,"y":185},{"p":3,"s":"16.01.2023","x":461,"y":155},{"p":3,"s":"16.01.2023","x":479,"y":140},{"p":3,"s":"16.01.2023","x":491,"y":109},{"p":3,"s":"16.01.2023","x":506,"y":112},{"p":3,"s":"16.01.2023","x":526,"y":112},{"p":3,"s":"16.01.2023","x":541,"y":109},{"p":3,"s":"16.01.2023","x":556,"y":121},{"p":3,"s":"16.01.2023","x":568,"y":109},{"p":3,"s":"16.01.2023","x":580,"y":109},{"p":3,"s":"16.01.2023","x":592,"y":86},{"p":3,"s":"16.01.2023","x":610,"y":79},{"p":3,"s":"16.01.2023","x":628,"y":71},{"p":3,"s":"16.01.2023","x":652,"y":49},{"p":3,"s":"16.01.2023","x":676,"y":26},{"p":3,"s":"16.01.2023","x":700,"y":8},{"p":3,"s":"16.01.2023","x":724,"y":6},

{"p":4,"s":"13.07.2023","x":0,"y":3},{"p":4,"s":"13.07.2023","x":24,"y":11},{"p":4,"s":"13.07.2023","x":41,"y":21},{"p":4,"s":"13.07.2023","x":58,"y":33},{"p":4,"s":"13.07.2023","x":76,"y":72},{"p":4,"s":"13.07.2023","x":98,"y":125},{"p":4,"s":"13.07.2023","x":121,"y":201},{"p":4,"s":"13.07.2023","x":144,"y":292},{"p":4,"s":"13.07.2023","x":167,"y":384},{"p":4,"s":"13.07.2023","x":190,"y":475},{"p":4,"s":"13.07.2023","x":213,"y":559},{"p":4,"s":"13.07.2023","x":236,"y":627},{"p":4,"s":"13.07.2023","x":259,"y":673},{"p":4,"s":"13.07.2023","x":281,"y":711},{"p":4,"s":"13.07.2023","x":304,"y":737},{"p":4,"s":"13.07.2023","x":327,"y":752},{"p":4,"s":"13.07.2023","x":356,"y":764},{"p":4,"s":"13.07.2023","x":385,"y":767},{"p":4,"s":"13.07.2023","x":412,"y":761},{"p":4,"s":"13.07.2023","x":434,"y":749},{"p":4,"s":"13.07.2023","x":457,"y":718},{"p":4,"s":"13.07.2023","x":480,"y":681},{"p":4,"s":"13.07.2023","x":498,"y":642},{"p":4,"s":"13.07.2023","x":521,"y":581},{"p":4,"s":"13.07.2023","x":545,"y":521},{"p":4,"s":"13.07.2023","x":568,"y":452},{"p":4,"s":"13.07.2023","x":590,"y":376},{"p":4,"s":"13.07.2023","x":614,"y":300},{"p":4,"s":"13.07.2023","x":631,"y":247},{"p":4,"s":"13.07.2023","x":637,"y":228},{"p":4,"s":"13.07.2023","x":639,"y":80},{"p":4,"s":"13.07.2023","x":671,"y":72},{"p":4,"s":"13.07.2023","x":706,"y":61},{"p":4,"s":"13.07.2023","x":763,"y":52},{"p":4,"s":"13.07.2023","x":798,"y":37},{"p":4,"s":"13.07.2023","x":832,"y":21},{"p":4,"s":"13.07.2023","x":860,"y":10},
{"p":4,"s":"8.06.2023","x":0,"y":11},{"p":4,"s":"8.06.2023","x":18,"y":26},{"p":4,"s":"8.06.2023","x":41,"y":52},{"p":4,"s":"8.06.2023","x":58,"y":64},{"p":4,"s":"8.06.2023","x":70,"y":94},{"p":4,"s":"8.06.2023","x":84,"y":117},{"p":4,"s":"8.06.2023","x":87,"y":155},{"p":4,"s":"8.06.2023","x":93,"y":125},{"p":4,"s":"8.06.2023","x":98,"y":132},{"p":4,"s":"8.06.2023","x":107,"y":209},{"p":4,"s":"8.06.2023","x":116,"y":216},{"p":4,"s":"8.06.2023","x":124,"y":247},{"p":4,"s":"8.06.2023","x":133,"y":262},{"p":4,"s":"8.06.2023","x":138,"y":300},{"p":4,"s":"8.06.2023","x":143,"y":254},{"p":4,"s":"8.06.2023","x":150,"y":323},{"p":4,"s":"8.06.2023","x":167,"y":361},{"p":4,"s":"8.06.2023","x":184,"y":422},{"p":4,"s":"8.06.2023","x":201,"y":460},{"p":4,"s":"8.06.2023","x":204,"y":429},{"p":4,"s":"8.06.2023","x":213,"y":513},{"p":4,"s":"8.06.2023","x":218,"y":559},{"p":4,"s":"8.06.2023","x":227,"y":437},{"p":4,"s":"8.06.2023","x":236,"y":559},{"p":4,"s":"8.06.2023","x":242,"y":604},{"p":4,"s":"8.06.2023","x":250,"y":574},{"p":4,"s":"8.06.2023","x":259,"y":536},{"p":4,"s":"8.06.2023","x":264,"y":483},{"p":4,"s":"8.06.2023","x":270,"y":559},{"p":4,"s":"8.06.2023","x":274,"y":703},{"p":4,"s":"8.06.2023","x":278,"y":566},{"p":4,"s":"8.06.2023","x":284,"y":483},{"p":4,"s":"8.06.2023","x":293,"y":597},{"p":4,"s":"8.06.2023","x":301,"y":582},{"p":4,"s":"8.06.2023","x":307,"y":505},{"p":4,"s":"8.06.2023","x":313,"y":703},{"p":4,"s":"8.06.2023","x":319,"y":795},{"p":4,"s":"8.06.2023","x":324,"y":749},{"p":4,"s":"8.06.2023","x":333,"y":627},{"p":4,"s":"8.06.2023","x":336,"y":528},{"p":4,"s":"8.06.2023","x":343,"y":696},{"p":4,"s":"8.06.2023","x":347,"y":658},{"p":4,"s":"8.06.2023","x":353,"y":528},{"p":4,"s":"8.06.2023","x":360,"y":726},{"p":4,"s":"8.06.2023","x":367,"y":711},{"p":4,"s":"8.06.2023","x":379,"y":718},{"p":4,"s":"8.06.2023","x":390,"y":703},{"p":4,"s":"8.06.2023","x":396,"y":680},{"p":4,"s":"8.06.2023","x":402,"y":650},{"p":4,"s":"8.06.2023","x":407,"y":582},{"p":4,"s":"8.06.2023","x":411,"y":521},{"p":4,"s":"8.06.2023","x":420,"y":574},{"p":4,"s":"8.06.2023","x":426,"y":513},{"p":4,"s":"8.06.2023","x":432,"y":429},{"p":4,"s":"8.06.2023","x":434,"y":346},{"p":4,"s":"8.06.2023","x":436,"y":460},{"p":4,"s":"8.06.2023","x":439,"y":772},{"p":4,"s":"8.06.2023","x":443,"y":642},{"p":4,"s":"8.06.2023","x":447,"y":520},{"p":4,"s":"8.06.2023","x":451,"y":323},{"p":4,"s":"8.06.2023","x":455,"y":505},{"p":4,"s":"8.06.2023","x":461,"y":604},{"p":4,"s":"8.06.2023","x":464,"y":610},{"p":4,"s":"8.06.2023","x":469,"y":498},{"p":4,"s":"8.06.2023","x":472,"y":604},{"p":4,"s":"8.06.2023","x":478,"y":658},{"p":4,"s":"8.06.2023","x":484,"y":642},{"p":4,"s":"8.06.2023","x":490,"y":665},{"p":4,"s":"8.06.2023","x":495,"y":589},{"p":4,"s":"8.06.2023","x":501,"y":559},{"p":4,"s":"8.06.2023","x":507,"y":581},{"p":4,"s":"8.06.2023","x":513,"y":543},{"p":4,"s":"8.06.2023","x":519,"y":574},{"p":4,"s":"8.06.2023","x":527,"y":559},{"p":4,"s":"8.06.2023","x":533,"y":528},{"p":4,"s":"8.06.2023","x":545,"y":513},{"p":4,"s":"8.06.2023","x":556,"y":475},{"p":4,"s":"8.06.2023","x":568,"y":490},{"p":4,"s":"8.06.2023","x":576,"y":444},{"p":4,"s":"8.06.2023","x":582,"y":414},{"p":4,"s":"8.06.2023","x":588,"y":307},{"p":4,"s":"8.06.2023","x":594,"y":368},{"p":4,"s":"8.06.2023","x":599,"y":338},{"p":4,"s":"8.06.2023","x":605,"y":277},{"p":4,"s":"8.06.2023","x":614,"y":262},{"p":4,"s":"8.06.2023","x":626,"y":247},{"p":4,"s":"8.06.2023","x":637,"y":231},{"p":4,"s":"8.06.2023","x":646,"y":201},{"p":4,"s":"8.06.2023","x":660,"y":186},{"p":4,"s":"8.06.2023","x":683,"y":163},{"p":4,"s":"8.06.2023","x":700,"y":148},{"p":4,"s":"8.06.2023","x":712,"y":132},{"p":4,"s":"8.06.2023","x":723,"y":110},{"p":4,"s":"8.06.2023","x":729,"y":94},{"p":4,"s":"8.06.2023","x":752,"y":87},{"p":4,"s":"8.06.2023","x":775,"y":56},{"p":4,"s":"8.06.2023","x":798,"y":33},{"p":4,"s":"8.06.2023","x":810,"y":15},{"p":4,"s":"8.06.2023","x":844,"y":11},
{"p":4,"s":"16.01.2023","x":178,"y":11},{"p":4,"s":"16.01.2023","x":213,"y":11},{"p":4,"s":"16.01.2023","x":221,"y":18},{"p":4,"s":"16.01.2023","x":241,"y":26},{"p":4,"s":"16.01.2023","x":253,"y":41},{"p":4,"s":"16.01.2023","x":264,"y":61},{"p":4,"s":"16.01.2023","x":281,"y":72},{"p":4,"s":"16.01.2023","x":293,"y":82},{"p":4,"s":"16.01.2023","x":301,"y":67},{"p":4,"s":"16.01.2023","x":316,"y":79},{"p":4,"s":"16.01.2023","x":327,"y":94},{"p":4,"s":"16.01.2023","x":339,"y":132},{"p":4,"s":"16.01.2023","x":353,"y":132},{"p":4,"s":"16.01.2023","x":364,"y":117},{"p":4,"s":"16.01.2023","x":373,"y":155},{"p":4,"s":"16.01.2023","x":379,"y":183},{"p":4,"s":"16.01.2023","x":390,"y":140},{"p":4,"s":"16.01.2023","x":396,"y":117},{"p":4,"s":"16.01.2023","x":405,"y":148},{"p":4,"s":"16.01.2023","x":410,"y":254},{"p":4,"s":"16.01.2023","x":416,"y":175},{"p":4,"s":"16.01.2023","x":423,"y":163},{"p":4,"s":"16.01.2023","x":431,"y":186},{"p":4,"s":"16.01.2023","x":440,"y":216},{"p":4,"s":"16.01.2023","x":446,"y":201},{"p":4,"s":"16.01.2023","x":455,"y":148},{"p":4,"s":"16.01.2023","x":469,"y":132},{"p":4,"s":"16.01.2023","x":484,"y":110},{"p":4,"s":"16.01.2023","x":498,"y":94},{"p":4,"s":"16.01.2023","x":521,"y":97},{"p":4,"s":"16.01.2023","x":533,"y":94},{"p":4,"s":"16.01.2023","x":545,"y":102},{"p":4,"s":"16.01.2023","x":559,"y":110},{"p":4,"s":"16.01.2023","x":568,"y":94},{"p":4,"s":"16.01.2023","x":590,"y":91},{"p":4,"s":"16.01.2023","x":601,"y":72},{"p":4,"s":"16.01.2023","x":625,"y":67},{"p":4,"s":"16.01.2023","x":642,"y":52},{"p":4,"s":"16.01.2023","x":660,"y":37},{"p":4,"s":"16.01.2023","x":683,"y":21},{"p":4,"s":"16.01.2023","x":706,"y":11},{"p":4,"s":"16.01.2023","x":729,"y":11},

{"p":5,"s":"13.07.2023","x":0,"y":3},{"p":5,"s":"13.07.2023","x":25,"y":11},{"p":5,"s":"13.07.2023","x":43,"y":26},{"p":5,"s":"13.07.2023","x":67,"y":41},{"p":5,"s":"13.07.2023","x":91,"y":56},{"p":5,"s":"13.07.2023","x":103,"y":64},{"p":5,"s":"13.07.2023","x":115,"y":79},{"p":5,"s":"13.07.2023","x":127,"y":102},{"p":5,"s":"13.07.2023","x":139,"y":125},{"p":5,"s":"13.07.2023","x":162,"y":170},{"p":5,"s":"13.07.2023","x":186,"y":216},{"p":5,"s":"13.07.2023","x":210,"y":262},{"p":5,"s":"13.07.2023","x":234,"y":300},{"p":5,"s":"13.07.2023","x":258,"y":330},{"p":5,"s":"13.07.2023","x":282,"y":353},{"p":5,"s":"13.07.2023","x":306,"y":368},{"p":5,"s":"13.07.2023","x":330,"y":381},{"p":5,"s":"13.07.2023","x":354,"y":387},{"p":5,"s":"13.07.2023","x":378,"y":387},{"p":5,"s":"13.07.2023","x":401,"y":381},{"p":5,"s":"13.07.2023","x":425,"y":368},{"p":5,"s":"13.07.2023","x":449,"y":346},{"p":5,"s":"13.07.2023","x":473,"y":315},{"p":5,"s":"13.07.2023","x":497,"y":277},{"p":5,"s":"13.07.2023","x":520,"y":231},{"p":5,"s":"13.07.2023","x":544,"y":186},{"p":5,"s":"13.07.2023","x":568,"y":148},{"p":5,"s":"13.07.2023","x":586,"y":128},{"p":5,"s":"13.07.2023","x":616,"y":117},{"p":5,"s":"13.07.2023","x":652,"y":102},{"p":5,"s":"13.07.2023","x":688,"y":87},{"p":5,"s":"13.07.2023","x":724,"y":72},{"p":5,"s":"13.07.2023","x":759,"y":56},{"p":5,"s":"13.07.2023","x":795,"y":38},{"p":5,"s":"13.07.2023","x":831,"y":18},{"p":5,"s":"13.07.2023","x":861,"y":6},
{"p":5,"s":"8.06.2023","x":0,"y":11},{"p":5,"s":"8.06.2023","x":19,"y":26},{"p":5,"s":"8.06.2023","x":43,"y":46},{"p":5,"s":"8.06.2023","x":61,"y":64},{"p":5,"s":"8.06.2023","x":73,"y":79},{"p":5,"s":"8.06.2023","x":85,"y":94},{"p":5,"s":"8.06.2023","x":91,"y":110},{"p":5,"s":"8.06.2023","x":97,"y":95},{"p":5,"s":"8.06.2023","x":103,"y":102},{"p":5,"s":"8.06.2023","x":121,"y":132},{"p":5,"s":"8.06.2023","x":133,"y":140},{"p":5,"s":"8.06.2023","x":139,"y":163},{"p":5,"s":"8.06.2023","x":151,"y":178},{"p":5,"s":"8.06.2023","x":174,"y":216},{"p":5,"s":"8.06.2023","x":198,"y":254},{"p":5,"s":"8.06.2023","x":201,"y":246},{"p":5,"s":"8.06.2023","x":210,"y":277},{"p":5,"s":"8.06.2023","x":219,"y":307},{"p":5,"s":"8.06.2023","x":225,"y":262},{"p":5,"s":"8.06.2023","x":234,"y":330},{"p":5,"s":"8.06.2023","x":240,"y":338},{"p":5,"s":"8.06.2023","x":249,"y":323},{"p":5,"s":"8.06.2023","x":255,"y":338},{"p":5,"s":"8.06.2023","x":261,"y":285},{"p":5,"s":"8.06.2023","x":270,"y":361},{"p":5,"s":"8.06.2023","x":273,"y":391},{"p":5,"s":"8.06.2023","x":279,"y":315},{"p":5,"s":"8.06.2023","x":282,"y":285},{"p":5,"s":"8.06.2023","x":291,"y":346},{"p":5,"s":"8.06.2023","x":297,"y":323},{"p":5,"s":"8.06.2023","x":303,"y":346},{"p":5,"s":"8.06.2023","x":307,"y":300},{"p":5,"s":"8.06.2023","x":312,"y":437},{"p":5,"s":"8.06.2023","x":316,"y":444},{"p":5,"s":"8.06.2023","x":324,"y":399},{"p":5,"s":"8.06.2023","x":330,"y":361},{"p":5,"s":"8.06.2023","x":336,"y":307},{"p":5,"s":"8.06.2023","x":342,"y":376},{"p":5,"s":"8.06.2023","x":348,"y":353},{"p":5,"s":"8.06.2023","x":352,"y":307},{"p":5,"s":"8.06.2023","x":358,"y":399},{"p":5,"s":"8.06.2023","x":366,"y":391},{"p":5,"s":"8.06.2023","x":378,"y":399},{"p":5,"s":"8.06.2023","x":389,"y":414},{"p":5,"s":"8.06.2023","x":398,"y":391},{"p":5,"s":"8.06.2023","x":404,"y":368},{"p":5,"s":"8.06.2023","x":410,"y":323},{"p":5,"s":"8.06.2023","x":416,"y":338},{"p":5,"s":"8.06.2023","x":422,"y":315},{"p":5,"s":"8.06.2023","x":428,"y":269},{"p":5,"s":"8.06.2023","x":431,"y":224},{"p":5,"s":"8.06.2023","x":434,"y":292},{"p":5,"s":"8.06.2023","x":437,"y":422},{"p":5,"s":"8.06.2023","x":443,"y":399},{"p":5,"s":"8.06.2023","x":449,"y":216},{"p":5,"s":"8.06.2023","x":455,"y":323},{"p":5,"s":"8.06.2023","x":461,"y":338},{"p":5,"s":"8.06.2023","x":467,"y":307},{"p":5,"s":"8.06.2023","x":470,"y":315},{"p":5,"s":"8.06.2023","x":473,"y":269},{"p":5,"s":"8.06.2023","x":476,"y":330},{"p":5,"s":"8.06.2023","x":482,"y":323},{"p":5,"s":"8.06.2023","x":488,"y":323},{"p":5,"s":"8.06.2023","x":494,"y":292},{"p":5,"s":"8.06.2023","x":503,"y":262},{"p":5,"s":"8.06.2023","x":520,"y":247},{"p":5,"s":"8.06.2023","x":544,"y":224},{"p":5,"s":"8.06.2023","x":556,"y":209},{"p":5,"s":"8.06.2023","x":574,"y":213},{"p":5,"s":"8.06.2023","x":580,"y":201},{"p":5,"s":"8.06.2023","x":592,"y":201},{"p":5,"s":"8.06.2023","x":610,"y":189},{"p":5,"s":"8.06.2023","x":640,"y":170},{"p":5,"s":"8.06.2023","x":652,"y":155},{"p":5,"s":"8.06.2023","x":682,"y":140},{"p":5,"s":"8.06.2023","x":700,"y":107},{"p":5,"s":"8.06.2023","x":735,"y":79},{"p":5,"s":"8.06.2023","x":771,"y":41},{"p":5,"s":"8.06.2023","x":795,"y":18},{"p":5,"s":"8.06.2023","x":819,"y":11},{"p":5,"s":"8.06.2023","x":843,"y":11},
{"p":5,"s":"16.01.2023","x":180,"y":6},{"p":5,"s":"16.01.2023","x":222,"y":11},{"p":5,"s":"16.01.2023","x":234,"y":18},{"p":5,"s":"16.01.2023","x":252,"y":26},{"p":5,"s":"16.01.2023","x":270,"y":37},{"p":5,"s":"16.01.2023","x":294,"y":46},{"p":5,"s":"16.01.2023","x":312,"y":52},{"p":5,"s":"16.01.2023","x":324,"y":72},{"p":5,"s":"16.01.2023","x":336,"y":94},{"p":5,"s":"16.01.2023","x":342,"y":87},{"p":5,"s":"16.01.2023","x":360,"y":87},{"p":5,"s":"16.01.2023","x":372,"y":125},{"p":5,"s":"16.01.2023","x":378,"y":132},{"p":5,"s":"16.01.2023","x":389,"y":94},{"p":5,"s":"16.01.2023","x":398,"y":110},{"p":5,"s":"16.01.2023","x":404,"y":125},{"p":5,"s":"16.01.2023","x":409,"y":189},{"p":5,"s":"16.01.2023","x":413,"y":117},{"p":5,"s":"16.01.2023","x":425,"y":113},{"p":5,"s":"16.01.2023","x":434,"y":140},{"p":5,"s":"16.01.2023","x":440,"y":148},{"p":5,"s":"16.01.2023","x":449,"y":102},{"p":5,"s":"16.01.2023","x":461,"y":87},{"p":5,"s":"16.01.2023","x":479,"y":64},{"p":5,"s":"16.01.2023","x":506,"y":64},{"p":5,"s":"16.01.2023","x":526,"y":67},{"p":5,"s":"16.01.2023","x":556,"y":72},{"p":5,"s":"16.01.2023","x":580,"y":64},{"p":5,"s":"16.01.2023","x":592,"y":56},{"p":5,"s":"16.01.2023","x":616,"y":46},{"p":5,"s":"16.01.2023","x":652,"y":33},{"p":5,"s":"16.01.2023","x":682,"y":18},{"p":5,"s":"16.01.2023","x":712,"y":8},{"p":5,"s":"16.01.2023","x":722,"y":6}
]},
"columns":2,
"spacing":{"row":42.5,"column":94},
"bounds":"flush",
"resolve":{"scale":{"color":"independent"},"legend":{"color":"independent"}},
"concat":[
{"width":525,"height":250,"resolve":{"axis":{"x":"independent","y":"independent"}},"layer":[
{"data":{"name":"d"},"transform":[{"filter":"datum.p == 0 && datum.s != '8.06.2023'"}],"mark":{"type":"line","strokeWidth":4.5},"encoding":{
"x":{"field":"x","type":"quantitative","scale":{"domain":[0,900],"nice":false,"zero":false},"axis":{"orient":"bottom","values":[0,20,40,60,80,100,120,140,160,180,200,220,240,260,280,300,320,340,360,380,400,420,440,460,480,500,520,540,560,580,600,620,640,660,680,700,720,740,760,780,800,820,840,860,880,900],"format":"d","labelExpr":"datum.value % 100 == 0 ? datum.label : ''","tickSize":{"condition":{"test":"datum.value % 100 == 0","value":-9},"value":-5},"labelPadding":21,"title":"Zaman  (Dakika)","titlePadding":2}},
"y":{"field":"y","type":"quantitative","scale":{"domain":[-37,1103],"nice":false,"zero":false},"axis":{"orient":"left","values":[0,50,100,150,200,250,300,350,400,450,500,550,600,650,700,750,800,850,900,950,1000,1050],"format":"d","labelExpr":"datum.value % 200 == 0 ? datum.label : ''","tickSize":{"condition":{"test":"datum.value % 200 == 0","value":-9},"value":-5},"labelPadding":13,"title":"Gunes Radyasyonu  (W/m²)","titlePadding":10}},
"color":{"field":"s","type":"nominal","scale":{"domain":["13.07.2023","8.06.2023","16.01.2023"],"range":["#ff0000","#0000ff","#ff00ff"]},"legend":{"orient":"none","legendX":21,"legendY":3,"title":null,"symbolType":"M-2,0H2","symbolSize":400,"symbolStrokeWidth":2,"labelOffset":40,"rowPadding":6.5,"labelFontSize":17,"labelFont":"DejaVu Sans","labelColor":"black","padding":0}}}},
{"data":{"name":"d"},"transform":[{"filter":"datum.p == 0 && datum.s == '8.06.2023'"}],"mark":{"type":"line","strokeWidth":1.4},"encoding":{
"x":{"field":"x","type":"quantitative","scale":{"domain":[0,900],"nice":false,"zero":false},"axis":{"orient":"top","values":[0,20,40,60,80,100,120,140,160,180,200,220,240,260,280,300,320,340,360,380,400,420,440,460,480,500,520,540,560,580,600,620,640,660,680,700,720,740,760,780,800,820,840,860,880,900],"labels":false,"title":null,"tickSize":{"condition":{"test":"datum.value % 100 == 0","value":-9},"value":-5}}},
"y":{"field":"y","type":"quantitative","scale":{"domain":[-37,1103],"nice":false,"zero":false},"axis":{"orient":"right","values":[0,50,100,150,200,250,300,350,400,450,500,550,600,650,700,750,800,850,900,950,1000,1050],"labels":false,"title":null,"tickSize":{"condition":{"test":"datum.value % 200 == 0","value":-9},"value":-5}}},
"color":{"field":"s","type":"nominal","scale":{"domain":["13.07.2023","8.06.2023","16.01.2023"],"range":["#ff0000","#0000ff","#ff00ff"]},"legend":{"orient":"none","legendX":21,"legendY":3,"title":null,"symbolType":"M-2,0H2","symbolSize":400,"symbolStrokeWidth":2,"labelOffset":40,"rowPadding":6.5,"labelFontSize":17,"labelFont":"DejaVu Sans","labelColor":"black","padding":0}}}},
{"data":{"values":[{"t":"(β=0°)"}]},"mark":{"type":"text","fontSize":28,"font":"DejaVu Sans","color":"black"},"encoding":{"x":{"datum":718,"type":"quantitative","axis":null},"y":{"datum":853,"type":"quantitative","axis":null},"text":{"field":"t"}}}
]},
{"width":502,"height":250,"resolve":{"axis":{"x":"independent","y":"independent"}},"layer":[
{"data":{"name":"d"},"transform":[{"filter":"datum.p == 1 && datum.s != '8.06.2023'"}],"mark":{"type":"line","strokeWidth":4.5},"encoding":{
"x":{"field":"x","type":"quantitative","scale":{"domain":[0,900],"nice":false,"zero":false},"axis":{"orient":"bottom","values":[0,20,40,60,80,100,120,140,160,180,200,220,240,260,280,300,320,340,360,380,400,420,440,460,480,500,520,540,560,580,600,620,640,660,680,700,720,740,760,780,800,820,840,860,880,900],"format":"d","labelExpr":"datum.value % 100 == 0 ? datum.label : ''","tickSize":{"condition":{"test":"datum.value % 100 == 0","value":-9},"value":-5},"labelPadding":21,"title":"Zaman  (Dakika)","titlePadding":2}},
"y":{"field":"y","type":"quantitative","scale":{"domain":[-37,1103],"nice":false,"zero":false},"axis":{"orient":"left","values":[0,50,100,150,200,250,300,350,400,450,500,550,600,650,700,750,800,850,900,950,1000,1050],"format":"d","labelExpr":"datum.value % 200 == 0 ? datum.label : ''","tickSize":{"condition":{"test":"datum.value % 200 == 0","value":-9},"value":-5},"labelPadding":13,"title":"Gunes Radyasyonu  (W/m²)","titlePadding":10}},
"color":{"field":"s","type":"nominal","scale":{"domain":["13.07.2023","8.06.2023","16.01.2023"],"range":["#ff0000","#0000ff","#ff00ff"]},"legend":{"orient":"none","legendX":21,"legendY":3,"title":null,"symbolType":"M-2,0H2","symbolSize":400,"symbolStrokeWidth":2,"labelOffset":40,"rowPadding":6.5,"labelFontSize":17,"labelFont":"DejaVu Sans","labelColor":"black","padding":0}}}},
{"data":{"name":"d"},"transform":[{"filter":"datum.p == 1 && datum.s == '8.06.2023'"}],"mark":{"type":"line","strokeWidth":1.4},"encoding":{
"x":{"field":"x","type":"quantitative","scale":{"domain":[0,900],"nice":false,"zero":false},"axis":{"orient":"top","values":[0,20,40,60,80,100,120,140,160,180,200,220,240,260,280,300,320,340,360,380,400,420,440,460,480,500,520,540,560,580,600,620,640,660,680,700,720,740,760,780,800,820,840,860,880,900],"labels":false,"title":null,"tickSize":{"condition":{"test":"datum.value % 100 == 0","value":-9},"value":-5}}},
"y":{"field":"y","type":"quantitative","scale":{"domain":[-37,1103],"nice":false,"zero":false},"axis":{"orient":"right","values":[0,50,100,150,200,250,300,350,400,450,500,550,600,650,700,750,800,850,900,950,1000,1050],"labels":false,"title":null,"tickSize":{"condition":{"test":"datum.value % 200 == 0","value":-9},"value":-5}}},
"color":{"field":"s","type":"nominal","scale":{"domain":["13.07.2023","8.06.2023","16.01.2023"],"range":["#ff0000","#0000ff","#ff00ff"]},"legend":{"orient":"none","legendX":21,"legendY":3,"title":null,"symbolType":"M-2,0H2","symbolSize":400,"symbolStrokeWidth":2,"labelOffset":40,"rowPadding":6.5,"labelFontSize":17,"labelFont":"DejaVu Sans","labelColor":"black","padding":0}}}},
{"data":{"values":[{"t":"(β=30°)"}]},"mark":{"type":"text","fontSize":28,"font":"DejaVu Sans","color":"black"},"encoding":{"x":{"datum":739,"type":"quantitative","axis":null},"y":{"datum":844,"type":"quantitative","axis":null},"text":{"field":"t"}}}
]},
{"width":525,"height":250,"resolve":{"axis":{"x":"independent","y":"independent"}},"layer":[
{"data":{"name":"d"},"transform":[{"filter":"datum.p == 2 && datum.s != '8.06.2023'"}],"mark":{"type":"line","strokeWidth":4.5},"encoding":{
"x":{"field":"x","type":"quantitative","scale":{"domain":[0,900],"nice":false,"zero":false},"axis":{"orient":"bottom","values":[0,20,40,60,80,100,120,140,160,180,200,220,240,260,280,300,320,340,360,380,400,420,440,460,480,500,520,540,560,580,600,620,640,660,680,700,720,740,760,780,800,820,840,860,880,900],"format":"d","labelExpr":"datum.value % 100 == 0 ? datum.label : ''","tickSize":{"condition":{"test":"datum.value % 100 == 0","value":-9},"value":-5},"labelPadding":21,"title":"Zaman  (Dakika)","titlePadding":2}},
"y":{"field":"y","type":"quantitative","scale":{"domain":[-37,1103],"nice":false,"zero":false},"axis":{"orient":"left","values":[0,50,100,150,200,250,300,350,400,450,500,550,600,650,700,750,800,850,900,950,1000,1050],"format":"d","labelExpr":"datum.value % 200 == 0 ? datum.label : ''","tickSize":{"condition":{"test":"datum.value % 200 == 0","value":-9},"value":-5},"labelPadding":13,"title":"Gunes Radyasyonu  (W/m²)","titlePadding":10}},
"color":{"field":"s","type":"nominal","scale":{"domain":["13.07.2023","8.06.2023","16.01.2023"],"range":["#ff0000","#0000ff","#ff00ff"]},"legend":{"orient":"none","legendX":21,"legendY":3,"title":null,"symbolType":"M-2,0H2","symbolSize":400,"symbolStrokeWidth":2,"labelOffset":40,"rowPadding":6.5,"labelFontSize":17,"labelFont":"DejaVu Sans","labelColor":"black","padding":0}}}},
{"data":{"name":"d"},"transform":[{"filter":"datum.p == 2 && datum.s == '8.06.2023'"}],"mark":{"type":"line","strokeWidth":1.4},"encoding":{
"x":{"field":"x","type":"quantitative","scale":{"domain":[0,900],"nice":false,"zero":false},"axis":{"orient":"top","values":[0,20,40,60,80,100,120,140,160,180,200,220,240,260,280,300,320,340,360,380,400,420,440,460,480,500,520,540,560,580,600,620,640,660,680,700,720,740,760,780,800,820,840,860,880,900],"labels":false,"title":null,"tickSize":{"condition":{"test":"datum.value % 100 == 0","value":-9},"value":-5}}},
"y":{"field":"y","type":"quantitative","scale":{"domain":[-37,1103],"nice":false,"zero":false},"axis":{"orient":"right","values":[0,50,100,150,200,250,300,350,400,450,500,550,600,650,700,750,800,850,900,950,1000,1050],"labels":false,"title":null,"tickSize":{"condition":{"test":"datum.value % 200 == 0","value":-9},"value":-5}}},
"color":{"field":"s","type":"nominal","scale":{"domain":["13.07.2023","8.06.2023","16.01.2023"],"range":["#ff0000","#0000ff","#ff00ff"]},"legend":{"orient":"none","legendX":21,"legendY":3,"title":null,"symbolType":"M-2,0H2","symbolSize":400,"symbolStrokeWidth":2,"labelOffset":40,"rowPadding":6.5,"labelFontSize":17,"labelFont":"DejaVu Sans","labelColor":"black","padding":0}}}},
{"data":{"values":[{"t":"(β=37°)"}]},"mark":{"type":"text","fontSize":28,"font":"DejaVu Sans","color":"black"},"encoding":{"x":{"datum":734,"type":"quantitative","axis":null},"y":{"datum":862,"type":"quantitative","axis":null},"text":{"field":"t"}}}
]},
{"width":502,"height":250,"resolve":{"axis":{"x":"independent","y":"independent"}},"layer":[
{"data":{"name":"d"},"transform":[{"filter":"datum.p == 3 && datum.s != '8.06.2023'"}],"mark":{"type":"line","strokeWidth":4.5},"encoding":{
"x":{"field":"x","type":"quantitative","scale":{"domain":[0,900],"nice":false,"zero":false},"axis":{"orient":"bottom","values":[0,20,40,60,80,100,120,140,160,180,200,220,240,260,280,300,320,340,360,380,400,420,440,460,480,500,520,540,560,580,600,620,640,660,680,700,720,740,760,780,800,820,840,860,880,900],"format":"d","labelExpr":"datum.value % 100 == 0 ? datum.label : ''","tickSize":{"condition":{"test":"datum.value % 100 == 0","value":-9},"value":-5},"labelPadding":21,"title":"Zaman  (Dakika)","titlePadding":2}},
"y":{"field":"y","type":"quantitative","scale":{"domain":[-37,1103],"nice":false,"zero":false},"axis":{"orient":"left","values":[0,50,100,150,200,250,300,350,400,450,500,550,600,650,700,750,800,850,900,950,1000,1050],"format":"d","labelExpr":"datum.value % 200 == 0 ? datum.label : ''","tickSize":{"condition":{"test":"datum.value % 200 == 0","value":-9},"value":-5},"labelPadding":13,"title":"Gunes Radyasyonu  (W/m²)","titlePadding":10}},
"color":{"field":"s","type":"nominal","scale":{"domain":["13.07.2023","8.06.2023","16.01.2023"],"range":["#ff0000","#0000ff","#ff00ff"]},"legend":{"orient":"none","legendX":21,"legendY":3,"title":null,"symbolType":"M-2,0H2","symbolSize":400,"symbolStrokeWidth":2,"labelOffset":40,"rowPadding":6.5,"labelFontSize":17,"labelFont":"DejaVu Sans","labelColor":"black","padding":0}}}},
{"data":{"name":"d"},"transform":[{"filter":"datum.p == 3 && datum.s == '8.06.2023'"}],"mark":{"type":"line","strokeWidth":1.4},"encoding":{
"x":{"field":"x","type":"quantitative","scale":{"domain":[0,900],"nice":false,"zero":false},"axis":{"orient":"top","values":[0,20,40,60,80,100,120,140,160,180,200,220,240,260,280,300,320,340,360,380,400,420,440,460,480,500,520,540,560,580,600,620,640,660,680,700,720,740,760,780,800,820,840,860,880,900],"labels":false,"title":null,"tickSize":{"condition":{"test":"datum.value % 100 == 0","value":-9},"value":-5}}},
"y":{"field":"y","type":"quantitative","scale":{"domain":[-37,1103],"nice":false,"zero":false},"axis":{"orient":"right","values":[0,50,100,150,200,250,300,350,400,450,500,550,600,650,700,750,800,850,900,950,1000,1050],"labels":false,"title":null,"tickSize":{"condition":{"test":"datum.value % 200 == 0","value":-9},"value":-5}}},
"color":{"field":"s","type":"nominal","scale":{"domain":["13.07.2023","8.06.2023","16.01.2023"],"range":["#ff0000","#0000ff","#ff00ff"]},"legend":{"orient":"none","legendX":21,"legendY":3,"title":null,"symbolType":"M-2,0H2","symbolSize":400,"symbolStrokeWidth":2,"labelOffset":40,"rowPadding":6.5,"labelFontSize":17,"labelFont":"DejaVu Sans","labelColor":"black","padding":0}}}},
{"data":{"values":[{"t":"(β=45°)"}]},"mark":{"type":"text","fontSize":28,"font":"DejaVu Sans","color":"black"},"encoding":{"x":{"datum":739,"type":"quantitative","axis":null},"y":{"datum":862,"type":"quantitative","axis":null},"text":{"field":"t"}}}
]},
{"width":525,"height":250,"resolve":{"axis":{"x":"independent","y":"independent"}},"layer":[
{"data":{"name":"d"},"transform":[{"filter":"datum.p == 4 && datum.s != '8.06.2023'"}],"mark":{"type":"line","strokeWidth":4.5},"encoding":{
"x":{"field":"x","type":"quantitative","scale":{"domain":[0,900],"nice":false,"zero":false},"axis":{"orient":"bottom","values":[0,20,40,60,80,100,120,140,160,180,200,220,240,260,280,300,320,340,360,380,400,420,440,460,480,500,520,540,560,580,600,620,640,660,680,700,720,740,760,780,800,820,840,860,880,900],"format":"d","labelExpr":"datum.value % 100 == 0 ? datum.label : ''","tickSize":{"condition":{"test":"datum.value % 100 == 0","value":-9},"value":-5},"labelPadding":21,"title":"Zaman  (Dakika)","titlePadding":2}},
"y":{"field":"y","type":"quantitative","scale":{"domain":[-37,1103],"nice":false,"zero":false},"axis":{"orient":"left","values":[0,50,100,150,200,250,300,350,400,450,500,550,600,650,700,750,800,850,900,950,1000,1050],"format":"d","labelExpr":"datum.value % 200 == 0 ? datum.label : ''","tickSize":{"condition":{"test":"datum.value % 200 == 0","value":-9},"value":-5},"labelPadding":13,"title":"Gunes Radyasyonu  (W/m²)","titlePadding":10}},
"color":{"field":"s","type":"nominal","scale":{"domain":["13.07.2023","8.06.2023","16.01.2023"],"range":["#ff0000","#0000ff","#ff00ff"]},"legend":{"orient":"none","legendX":21,"legendY":3,"title":null,"symbolType":"M-2,0H2","symbolSize":400,"symbolStrokeWidth":2,"labelOffset":40,"rowPadding":6.5,"labelFontSize":17,"labelFont":"DejaVu Sans","labelColor":"black","padding":0}}}},
{"data":{"name":"d"},"transform":[{"filter":"datum.p == 4 && datum.s == '8.06.2023'"}],"mark":{"type":"line","strokeWidth":1.4},"encoding":{
"x":{"field":"x","type":"quantitative","scale":{"domain":[0,900],"nice":false,"zero":false},"axis":{"orient":"top","values":[0,20,40,60,80,100,120,140,160,180,200,220,240,260,280,300,320,340,360,380,400,420,440,460,480,500,520,540,560,580,600,620,640,660,680,700,720,740,760,780,800,820,840,860,880,900],"labels":false,"title":null,"tickSize":{"condition":{"test":"datum.value % 100 == 0","value":-9},"value":-5}}},
"y":{"field":"y","type":"quantitative","scale":{"domain":[-37,1103],"nice":false,"zero":false},"axis":{"orient":"right","values":[0,50,100,150,200,250,300,350,400,450,500,550,600,650,700,750,800,850,900,950,1000,1050],"labels":false,"title":null,"tickSize":{"condition":{"test":"datum.value % 200 == 0","value":-9},"value":-5}}},
"color":{"field":"s","type":"nominal","scale":{"domain":["13.07.2023","8.06.2023","16.01.2023"],"range":["#ff0000","#0000ff","#ff00ff"]},"legend":{"orient":"none","legendX":21,"legendY":3,"title":null,"symbolType":"M-2,0H2","symbolSize":400,"symbolStrokeWidth":2,"labelOffset":40,"rowPadding":6.5,"labelFontSize":17,"labelFont":"DejaVu Sans","labelColor":"black","padding":0}}}},
{"data":{"values":[{"t":"(β=60°)"}]},"mark":{"type":"text","fontSize":28,"font":"DejaVu Sans","color":"black"},"encoding":{"x":{"datum":734,"type":"quantitative","axis":null},"y":{"datum":862,"type":"quantitative","axis":null},"text":{"field":"t"}}}
]},
{"width":502,"height":250,"resolve":{"axis":{"x":"independent","y":"independent"}},"layer":[
{"data":{"name":"d"},"transform":[{"filter":"datum.p == 5 && datum.s != '8.06.2023'"}],"mark":{"type":"line","strokeWidth":4.5},"encoding":{
"x":{"field":"x","type":"quantitative","scale":{"domain":[0,900],"nice":false,"zero":false},"axis":{"orient":"bottom","values":[0,20,40,60,80,100,120,140,160,180,200,220,240,260,280,300,320,340,360,380,400,420,440,460,480,500,520,540,560,580,600,620,640,660,680,700,720,740,760,780,800,820,840,860,880,900],"format":"d","labelExpr":"datum.value % 100 == 0 ? datum.label : ''","tickSize":{"condition":{"test":"datum.value % 100 == 0","value":-9},"value":-5},"labelPadding":21,"title":"Zaman  (Dakika)","titlePadding":2}},
"y":{"field":"y","type":"quantitative","scale":{"domain":[-37,1103],"nice":false,"zero":false},"axis":{"orient":"left","values":[0,50,100,150,200,250,300,350,400,450,500,550,600,650,700,750,800,850,900,950,1000,1050],"format":"d","labelExpr":"datum.value % 200 == 0 ? datum.label : ''","tickSize":{"condition":{"test":"datum.value % 200 == 0","value":-9},"value":-5},"labelPadding":13,"title":"Gunes Radyasyonu  (W/m²)","titlePadding":10}},
"color":{"field":"s","type":"nominal","scale":{"domain":["13.07.2023","8.06.2023","16.01.2023"],"range":["#ff0000","#0000ff","#ff00ff"]},"legend":{"orient":"none","legendX":21,"legendY":3,"title":null,"symbolType":"M-2,0H2","symbolSize":400,"symbolStrokeWidth":2,"labelOffset":40,"rowPadding":6.5,"labelFontSize":17,"labelFont":"DejaVu Sans","labelColor":"black","padding":0}}}},
{"data":{"name":"d"},"transform":[{"filter":"datum.p == 5 && datum.s == '8.06.2023'"}],"mark":{"type":"line","strokeWidth":1.4},"encoding":{
"x":{"field":"x","type":"quantitative","scale":{"domain":[0,900],"nice":false,"zero":false},"axis":{"orient":"top","values":[0,20,40,60,80,100,120,140,160,180,200,220,240,260,280,300,320,340,360,380,400,420,440,460,480,500,520,540,560,580,600,620,640,660,680,700,720,740,760,780,800,820,840,860,880,900],"labels":false,"title":null,"tickSize":{"condition":{"test":"datum.value % 100 == 0","value":-9},"value":-5}}},
"y":{"field":"y","type":"quantitative","scale":{"domain":[-37,1103],"nice":false,"zero":false},"axis":{"orient":"right","values":[0,50,100,150,200,250,300,350,400,450,500,550,600,650,700,750,800,850,900,950,1000,1050],"labels":false,"title":null,"tickSize":{"condition":{"test":"datum.value % 200 == 0","value":-9},"value":-5}}},
"color":{"field":"s","type":"nominal","scale":{"domain":["13.07.2023","8.06.2023","16.01.2023"],"range":["#ff0000","#0000ff","#ff00ff"]},"legend":{"orient":"none","legendX":21,"legendY":3,"title":null,"symbolType":"M-2,0H2","symbolSize":400,"symbolStrokeWidth":2,"labelOffset":40,"rowPadding":6.5,"labelFontSize":17,"labelFont":"DejaVu Sans","labelColor":"black","padding":0}}}},
{"data":{"values":[{"t":"(β=90°)"}]},"mark":{"type":"text","fontSize":28,"font":"DejaVu Sans","color":"black"},"encoding":{"x":{"datum":739,"type":"quantitative","axis":null},"y":{"datum":856,"type":"quantitative","axis":null},"text":{"field":"t"}}}
]}
]
}
